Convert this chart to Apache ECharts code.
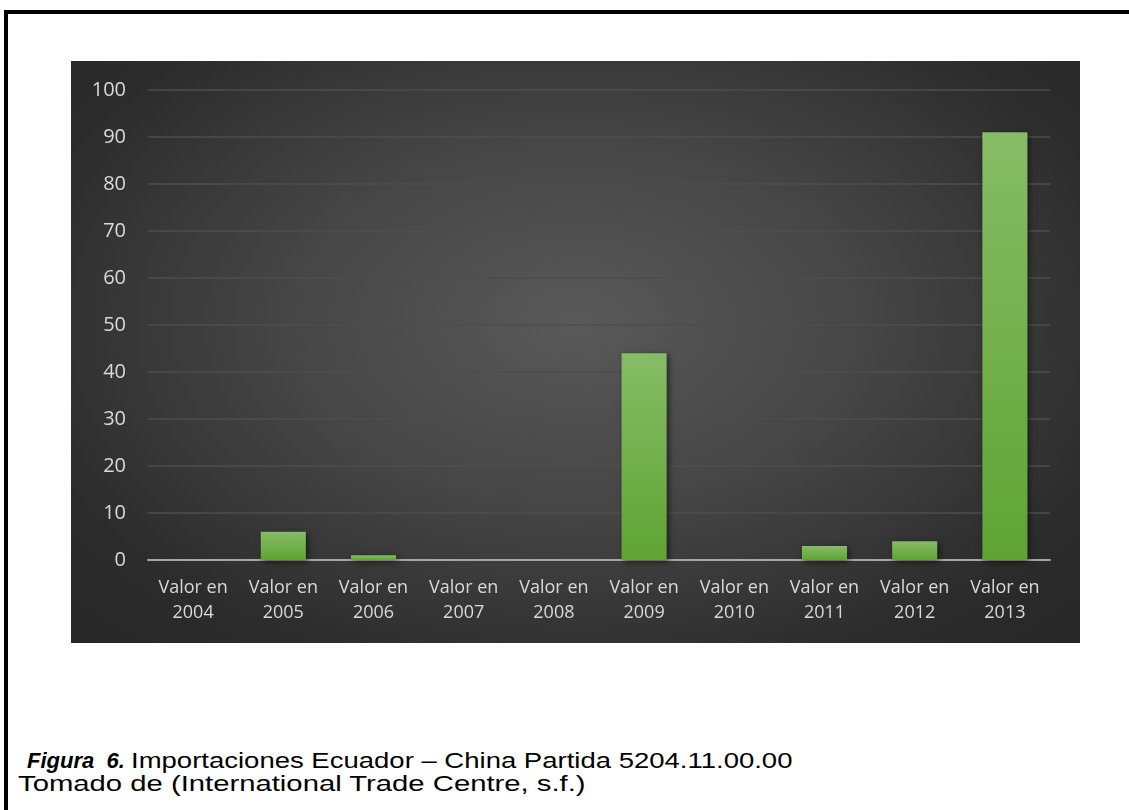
<!DOCTYPE html>
<html><head><meta charset="utf-8">
<script src="https://cdn.jsdelivr.net/npm/echarts@6/dist/echarts.min.js"></script>
<style>
html,body{margin:0;padding:0;background:#fff;width:1129px;height:810px;overflow:hidden;position:relative}
#btop{position:absolute;left:4px;top:10px;width:1125px;height:4px;background:#000}
#bleft{position:absolute;left:4px;top:10px;width:4px;height:800px;background:#000}
#box{position:absolute;left:71px;top:61px;width:1009px;height:582px;
background:radial-gradient(ellipse at 50% 45%, #595959 0%, #464646 40%, #2c2c2c 80%, #262626 100%);}
#chart{width:1009px;height:582px}
.cap{position:absolute;font-family:"Liberation Sans",Arial,sans-serif;font-size:22px;color:#000;white-space:nowrap;line-height:25px}
.s{display:inline-block;transform-origin:0 50%}
</style></head><body>
<div id="btop"></div><div id="bleft"></div>
<div id="box"><div id="chart"></div></div>
<div class="cap" style="left:27px;top:748px"><b><i style="font-size:22px">Figura&nbsp;&nbsp;6.</i></b> <span class="s" style="transform:scaleX(1.25)">Importaciones Ecuador – China Partida 5204.11.00.00</span></div>
<div class="cap" style="left:18px;top:771px"><span class="s" style="transform:scaleX(1.33)">Tomado de (International Trade Centre, s.f.)</span></div>
<script>
const categories = ["Valor en\n2004","Valor en\n2005","Valor en\n2006","Valor en\n2007","Valor en\n2008","Valor en\n2009","Valor en\n2010","Valor en\n2011","Valor en\n2012","Valor en\n2013"];
const values = [0, 6, 1, 0, 0, 44, 0, 3, 4, 91];
const yTicks = {min:0, max:100, interval:10};

const chart = echarts.init(document.getElementById('chart'), null, {renderer:'canvas'});
chart.setOption({
  animation:false,
  backgroundColor:'transparent',
  grid:{left:77,right:30,top:29,bottom:83},
  xAxis:{type:'category',data:categories,
    axisLine:{lineStyle:{color:'#a6a6a6',width:2}},
    axisTick:{show:false},
    axisLabel:{color:'#d9d9d9',fontSize:18,fontFamily:'"Open Sans", sans-serif',lineHeight:25,margin:15,interval:0}},
  yAxis:{type:'value',min:yTicks.min,max:yTicks.max,interval:yTicks.interval,
    axisLine:{show:false},axisTick:{show:false},
    splitLine:{lineStyle:{color:'#4e4e4e',width:1.5}},
    axisLabel:{color:'#d9d9d9',fontSize:20,fontFamily:'"Open Sans", sans-serif',margin:22}},
  series:[{type:'bar',data:values,barWidth:'50%',
    itemStyle:{color:new echarts.graphic.LinearGradient(0,0,0,1,[{offset:0,color:'#86bc66'},{offset:1,color:'#5fa433'}]),
      shadowBlur:6,shadowColor:'rgba(0,0,0,0.55)',shadowOffsetX:2,shadowOffsetY:2}}]
});
</script>
</body></html>
